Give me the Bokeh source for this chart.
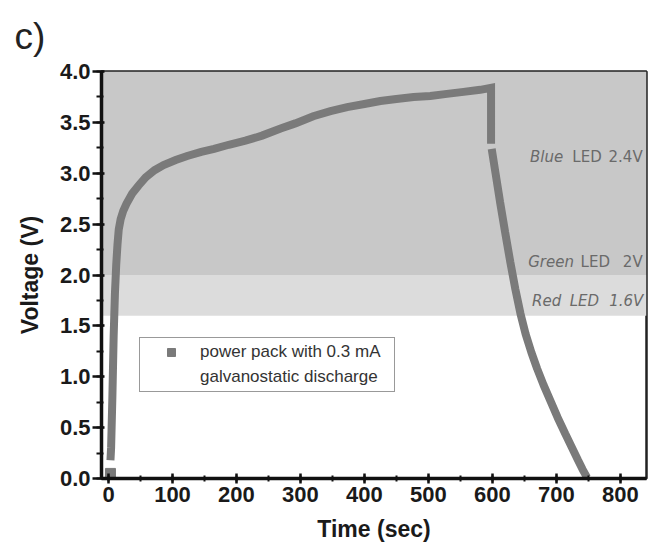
from bokeh.plotting import figure
from bokeh.models import (Range1d, SingleIntervalTicker, BoxAnnotation, Label,
                          Legend, LegendItem, NumeralTickFormatter)
from bokeh.embed import file_html
from bokeh.resources import INLINE

# Charging branch (time in s, voltage in V), ending with the step down at cut-off
charge_t = [3, 4, 6, 8, 10, 12, 14, 16, 19, 23, 28, 37, 47, 58, 72, 86, 105, 123,
            145, 165, 188, 214, 240, 269, 292, 320, 347, 373, 400, 425, 450, 477,
            503, 529, 555, 581, 598, 598]
charge_v = [0.18, 0.3, 0.8, 1.4, 1.82, 2.1, 2.3, 2.45, 2.55, 2.63, 2.7, 2.8, 2.88,
            2.96, 3.03, 3.08, 3.13, 3.17, 3.21, 3.24, 3.28, 3.32, 3.37, 3.44, 3.49,
            3.56, 3.61, 3.65, 3.68, 3.71, 3.73, 3.75, 3.76, 3.78, 3.80, 3.82, 3.84,
            3.29]

# Galvanostatic discharge branch at 0.3 mA
discharge_t = [599, 605, 612, 620, 628, 636, 644, 652, 661, 670, 680, 691, 702,
               714, 724, 734, 741, 748]
discharge_v = [3.24, 3.00, 2.72, 2.42, 2.13, 1.86, 1.62, 1.42, 1.24, 1.08, 0.92,
               0.76, 0.60, 0.44, 0.31, 0.18, 0.09, 0.01]

# First recorded point
start_t = [3]
start_v = [0.05]

# LED threshold voltages
green_led_v = 2.0
red_led_v = 1.6

curve_color = "#7a7a7a"

p = figure(frame_width=545, frame_height=407,
           x_range=Range1d(-11, 841), y_range=Range1d(0, 4.0),
           output_backend="svg", toolbar_location=None,
           min_border_left=101, min_border_right=6,
           min_border_top=71, min_border_bottom=79,
           background_fill_color="white", border_fill_color="white")

p.grid.visible = False
p.outline_line_color = "#222222"
p.outline_line_width = 2.5

# LED operating regions
p.add_layout(BoxAnnotation(bottom=green_led_v, top=4.0, fill_color="#c8c8c8",
                           fill_alpha=1, line_alpha=0, level="underlay"))
p.add_layout(BoxAnnotation(bottom=red_led_v, top=green_led_v, fill_color="#dcdcdc",
                           fill_alpha=1, line_alpha=0, level="underlay"))

p.line(charge_t, charge_v, line_color=curve_color, line_width=8, line_join="miter")
p.line(discharge_t, discharge_v, line_color=curve_color, line_width=8)
start_r = p.scatter(start_t, start_v, marker="square", size=10,
                    fill_color=curve_color, line_color=curve_color)
blank_r = p.line(x=[], y=[], line_alpha=0)

# Axes
font = "Liberation Sans"
for ax in (p.xaxis[0], p.yaxis[0]):
    ax.axis_line_width = 3.5
    ax.axis_line_color = "#111111"
    ax.major_tick_line_width = 2.5
    ax.minor_tick_line_width = 2
    ax.major_tick_line_color = "#111111"
    ax.minor_tick_line_color = "#111111"
    ax.major_label_text_font = font
    ax.major_label_text_font_style = "bold"
    ax.major_label_text_font_size = "22px"
    ax.major_label_text_color = "#1a1a1a"
    ax.axis_label_text_font = font
    ax.axis_label_text_font_style = "bold"
    ax.axis_label_text_font_size = "23px"
    ax.axis_label_text_color = "#1a1a1a"

p.xaxis.ticker = SingleIntervalTicker(interval=100, num_minor_ticks=2)
p.yaxis.ticker = SingleIntervalTicker(interval=0.5, num_minor_ticks=2)
p.yaxis.formatter = NumeralTickFormatter(format="0.0")

p.xaxis.major_tick_in = 5
p.xaxis.major_tick_out = 5
p.xaxis.minor_tick_in = 3
p.xaxis.minor_tick_out = 3
p.xaxis.major_label_standoff = 3
p.xaxis.axis_label = "Time (sec)"
p.xaxis.axis_label_standoff = 11

p.yaxis.major_tick_in = 3
p.yaxis.major_tick_out = 9
p.yaxis.minor_tick_in = 2
p.yaxis.minor_tick_out = 5
p.yaxis.major_label_standoff = 2
p.yaxis.axis_label = "Voltage (V)"
p.yaxis.axis_label_standoff = 14

# Panel letter
p.title.text = "c)"
p.title.align = "left"
p.title.vertical_align = "top"
p.title.offset = -87
p.title.text_font = font
p.title.text_font_style = "normal"
p.title.text_font_size = "37px"
p.title.text_color = "#222222"
p.title.standoff = 26

# LED labels: (text, x, y, style, align)
led_font = "DejaVu Sans"
led_color = "#6a6a6a"
led_size = "15px"
led_texts = [
    ("Blue", 659, 3.07, "italic", "left"),
    ("LED", 725, 3.07, "normal", "left"),
    ("2.4V", 835, 3.07, "normal", "right"),
    ("Green", 656, 2.04, "italic", "left"),
    ("LED", 738, 2.04, "normal", "left"),
    ("2V", 835, 2.04, "normal", "right"),
    ("Red", 662, 1.66, "italic", "left"),
    ("LED", 721, 1.66, "italic", "left"),
    ("1.6V", 836, 1.66, "italic", "right"),
]
for txt, lx, ly, style, align in led_texts:
    p.add_layout(Label(x=lx, y=ly, text=txt, text_font=led_font,
                       text_font_style=style, text_font_size=led_size,
                       text_color=led_color, text_align=align))

legend = Legend(items=[LegendItem(label="power pack with 0.3 mA", renderers=[start_r]),
                       LegendItem(label="galvanostatic discharge", renderers=[blank_r])],
                location=(38, 86), glyph_width=54, glyph_height=20,
                label_height=20, label_width=190, label_standoff=2,
                padding=4, spacing=5, margin=0,
                border_line_color="#333333", border_line_width=1.5,
                background_fill_alpha=1,
                label_text_font=font, label_text_font_size="17px",
                label_text_color="#333333", label_text_baseline="middle")
p.add_layout(legend)

open("out.html", "w").write(file_html(p, INLINE))
